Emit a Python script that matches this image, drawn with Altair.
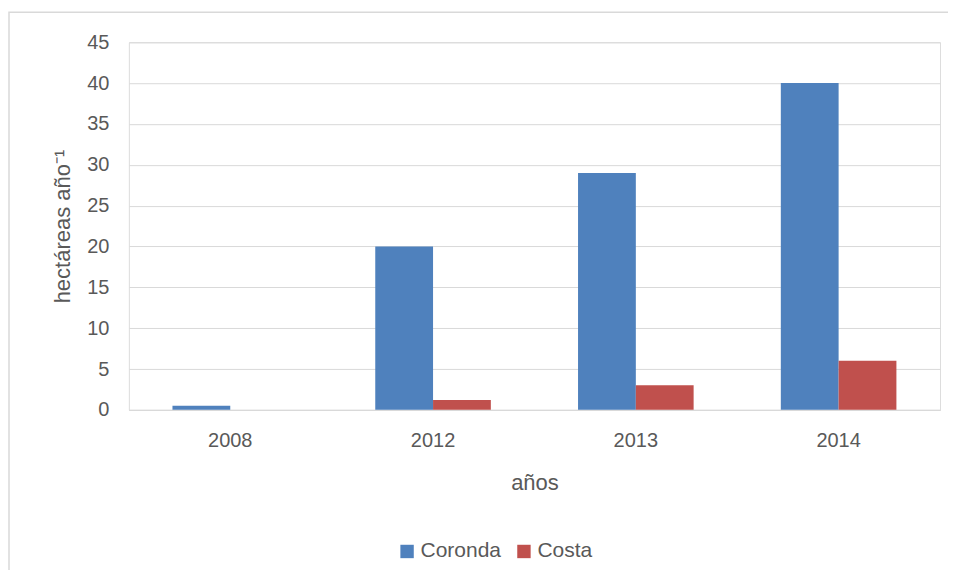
import altair as alt
import pandas as pd

years = ["2008", "2012", "2013", "2014"]
coronda = [0.5, 20, 29, 40]
costa = [0, 1.2, 3, 6]
series = ["Coronda", "Costa"]
colors = ["#4F81BD", "#C0504D"]

rows = []
for i, y in enumerate(years):
    rows.append({"year": y, "serie": "Coronda", "value": coronda[i]})
    rows.append({"year": y, "serie": "Costa", "value": costa[i]})
df = pd.DataFrame(rows)

FONT = "Liberation Sans"
GRAY = "#595959"

bars = alt.Chart(df).mark_bar().encode(
    x=alt.X("year:N", sort=years, title="años",
            scale=alt.Scale(paddingInner=0.43, paddingOuter=0.215),
            axis=alt.Axis(labelAngle=0, ticks=False, labelPadding=21,
                          titlePadding=22, domainColor="#d9d9d9",
                          labelFontSize=20, titleFontSize=22)),
    xOffset=alt.XOffset("serie:N", sort=series),
    y=alt.Y("value:Q", title="hectáreas año⁻¹",
            scale=alt.Scale(domain=[0, 45]),
            axis=alt.Axis(values=list(range(0, 50, 5)), ticks=False,
                          domain=False, labelPadding=20, titlePadding=12,
                          gridColor="#d9d9d9", labelFontSize=20,
                          titleFontSize=22)),
    color=alt.Color("serie:N", sort=series,
                    scale=alt.Scale(domain=series, range=colors),
                    legend=alt.Legend(title=None, orient="none",
                                      direction="horizontal",
                                      legendX=268, legendY=499,
                                      symbolType="square", symbolSize=180,
                                      labelFontSize=21, columnPadding=12,
                                      symbolOffset=0, labelOffset=3)),
)

frame = alt.Chart(pd.DataFrame({"a": [0]})).mark_rect(
    fill=None, stroke="#d9d9d9", strokeWidth=1.5
).encode(x=alt.value(-120), x2=alt.value(822), y=alt.value(-30), y2=alt.value(545))

chart = alt.layer(frame, bars).properties(
    width=812, height=368,
    autosize=alt.AutoSizeParams(type="none"),
    padding={"left": 121, "top": 34, "right": 8, "bottom": 160},
).configure_view(stroke=None).configure(
    font=FONT
).configure_axis(
    labelColor=GRAY, titleColor=GRAY, labelFont=FONT, titleFont=FONT,
    titleFontWeight="normal"
).configure_legend(labelColor=GRAY, labelFont=FONT)

chart.save("out.html", embed_options={"renderer": "svg", "actions": False})
